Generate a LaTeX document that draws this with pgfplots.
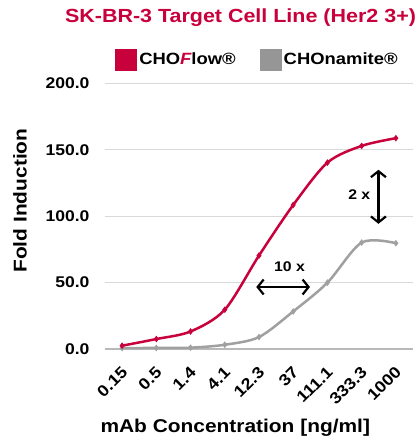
\documentclass[border=0pt]{standalone}
\usepackage{fontspec}
\setmainfont{Liberation Sans}[FakeStretch=1.13]
\usepackage{pgfplots}
\pgfplotsset{compat=1.18}
\usetikzlibrary{arrows.meta}
\definecolor{crim}{RGB}{200,0,60}
\definecolor{gline}{RGB}{160,160,160}
\definecolor{gleg}{RGB}{150,150,150}
\begin{document}
\begin{tikzpicture}
\begin{axis}[
  scale only axis, width=308pt, height=265.5pt,
  clip=false,
  xmin=-0.5, xmax=8.5, ymin=0, ymax=200,
  xtick={0,...,8},
  xticklabels={0.15,0.5,1.4,4.1,12.3,37,111.1,333.3,1000},
  ytick={0,50,100,150,200},
  major tick length=0,
  ymajorgrids, grid style={draw=gray!30, line width=1.2pt},
  axis lines*=left,
  y axis line style={draw=none},
  x axis line style={draw=gray!55, line width=1.2pt, -},
  /pgf/number format/.cd, fixed, fixed zerofill, precision=1, assume math mode=true,
  /pgfplots/.cd,
  yticklabel style={font=\fontsize{15.5}{18}\selectfont\bfseries, xshift=-12pt},
  xticklabel style={font=\fontsize{16}{18}\selectfont\bfseries, xshift=5pt, yshift=-18pt, rotate=45, anchor=east},
  xlabel={mAb Concentration [ng/ml]},
  xlabel style={at={(rel axis cs:0.423,-0.2976)}, anchor=center, font=\fontsize{18.5}{22}\selectfont\bfseries},
  ylabel={Fold Induction},
  ylabel style={at={(rel axis cs:-0.276,0.559)}, anchor=center, font=\fontsize{18.5}{22}\selectfont\bfseries},
  legend style={at={(rel axis cs:0.495,1.09)}, anchor=center, draw=none, fill=none,
    font=\fontsize{16.3}{19}\selectfont\bfseries,
    /tikz/every even column/.append style={column sep=22pt},
    /tikz/every odd column/.append style={column sep=0pt}},
  legend columns=2,
  legend image code/.code={\fill[#1] (0pt,-11pt) rectangle (22pt,11pt);},
]
\addlegendimage{fill=crim, draw=none}
\addlegendentry{CHO{\color{crim}\itshape F}low®}
\addlegendimage{fill=gleg, draw=none}
\addlegendentry{CHOnamite®}

\addplot[forget plot, gline, line width=2.5pt, smooth, mark=diamond*, mark size=1.3pt] coordinates {
 (0,0.7)(1,0.8)(2,1.0)(3,3.2)(4,9.0)(5,28.3)(6,50.0)(7,80.2)(8,79.7)};
\addplot[forget plot, crim, line width=2.5pt, smooth, mark=diamond*, mark size=1.3pt] coordinates {
 (0,2.5)(1,7.5)(2,13.2)(3,29.6)(4,70.4)(5,108.5)(6,140.4)(7,153)(8,158.8)};

\draw[line width=2.2pt, {Straight Barb[length=6pt,width=15pt]}-{Straight Barb[length=6pt,width=15pt]}]
  (axis cs:3.92,46.7) -- (axis cs:5.49,46.7);
\draw[line width=2.2pt, {Straight Barb[length=6pt,width=15pt]}-{Straight Barb[length=6pt,width=15pt]}]
  (axis cs:7.49,135) -- (axis cs:7.49,94.3);
\node[font=\fontsize{14}{16}\selectfont\bfseries] at (axis cs:4.89,62.2) {10 x};
\node[font=\fontsize{14}{16}\selectfont\bfseries] at (axis cs:6.93,116) {2 x};
\node[font=\fontsize{19}{22}\selectfont\bfseries, text=crim] at (rel axis cs:0.44,1.249) {SK-BR-3 Target Cell Line (Her2 3+)};
\coordinate (O) at (rel axis cs:0,0);
\end{axis}
\pgfresetboundingbox
\path[use as bounding box] ([shift={(-105pt,-90pt)}]O) rectangle ([shift={(310pt,349pt)}]O);
\end{tikzpicture}
\end{document}
